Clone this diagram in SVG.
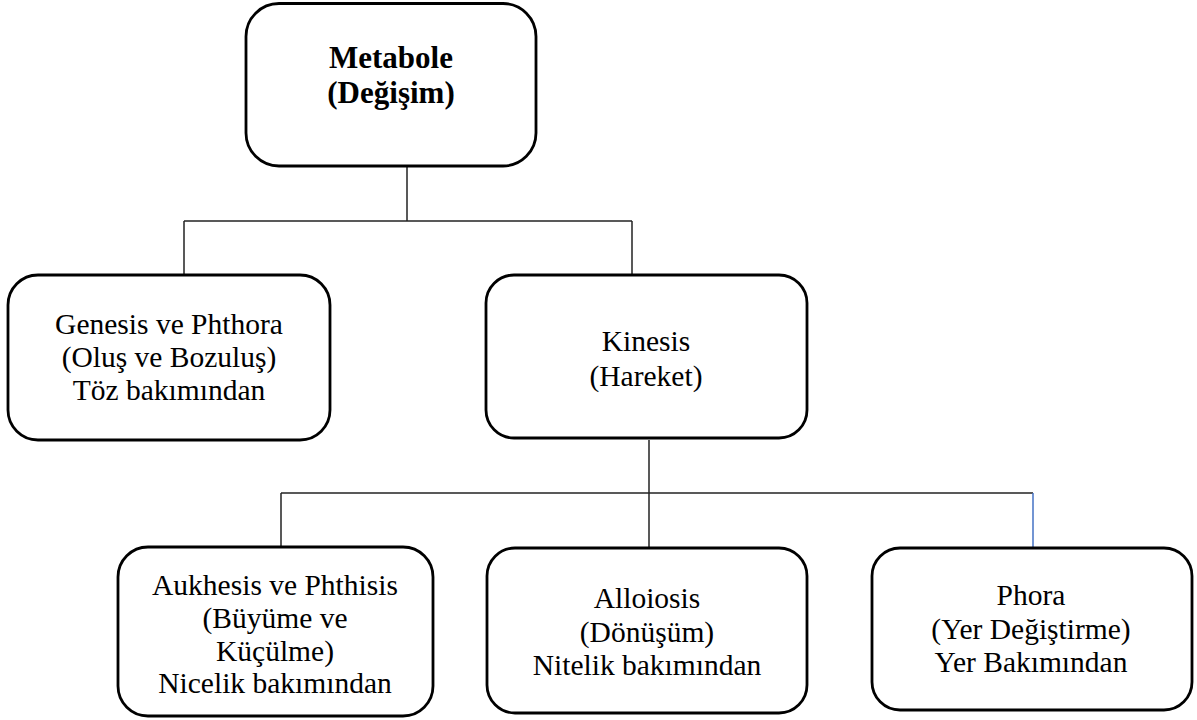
<svg xmlns="http://www.w3.org/2000/svg" width="1197" height="720" viewBox="0 0 1197 720">
<style>
.box{fill:#fff;stroke:#000;stroke-width:2.8}
.t{font-family:"Liberation Serif","Times New Roman",serif;font-size:29.5px;fill:#000;text-anchor:middle}
.b{font-family:"Liberation Serif","Times New Roman",serif;font-size:31px;font-weight:bold;fill:#000;text-anchor:middle}
.c{stroke:#222;stroke-width:1.5;fill:none}
</style>
<rect width="1197" height="720" fill="#fff"/>
<g id="connectors">
<line class="c" x1="407" y1="166" x2="407" y2="221"/>
<line class="c" x1="184" y1="221" x2="632" y2="221"/>
<line class="c" x1="184" y1="221" x2="184" y2="275"/>
<line class="c" x1="632" y1="221" x2="632" y2="275"/>
<line class="c" x1="649" y1="440" x2="649" y2="548"/>
<line class="c" x1="281" y1="493" x2="1033" y2="493"/>
<line class="c" x1="281" y1="493" x2="281" y2="547"/>
<line x1="1033" y1="493" x2="1033" y2="548" stroke="#4472C4" stroke-width="1.5"/>
</g>
<g id="metabole">
<rect class="box" x="246" y="3.5" width="290" height="162.5" rx="33"/>
<text class="b" x="391" y="68">Metabole</text>
<text class="b" x="391" y="103">(Değişim)</text>
</g>
<g id="genesis">
<rect class="box" x="8" y="275" width="322" height="165" rx="30"/>
<text class="t" x="169" y="334">Genesis ve Phthora</text>
<text class="t" x="169" y="367">(Oluş ve Bozuluş)</text>
<text class="t" x="169" y="400">Töz bakımından</text>
</g>
<g id="kinesis">
<rect class="box" x="486" y="275" width="321" height="163" rx="28"/>
<text class="t" x="646" y="351">Kinesis</text>
<text class="t" x="646" y="386">(Hareket)</text>
</g>
<g id="aukhesis">
<rect class="box" x="118" y="547" width="315" height="169" rx="30"/>
<text class="t" x="275" y="595">Aukhesis ve Phthisis</text>
<text class="t" x="275" y="628">(Büyüme ve</text>
<text class="t" x="275" y="660.5">Küçülme)</text>
<text class="t" x="275" y="693">Nicelik bakımından</text>
</g>
<g id="alloiosis">
<rect class="box" x="487" y="548" width="320" height="165" rx="28"/>
<text class="t" x="647" y="608">Alloiosis</text>
<text class="t" x="647" y="641.5">(Dönüşüm)</text>
<text class="t" x="647" y="675">Nitelik bakımından</text>
</g>
<g id="phora">
<rect class="box" x="872" y="548" width="320" height="162" rx="28"/>
<text class="t" x="1031" y="605">Phora</text>
<text class="t" x="1031" y="639">(Yer Değiştirme)</text>
<text class="t" x="1031" y="672">Yer Bakımından</text>
</g>
</svg>
